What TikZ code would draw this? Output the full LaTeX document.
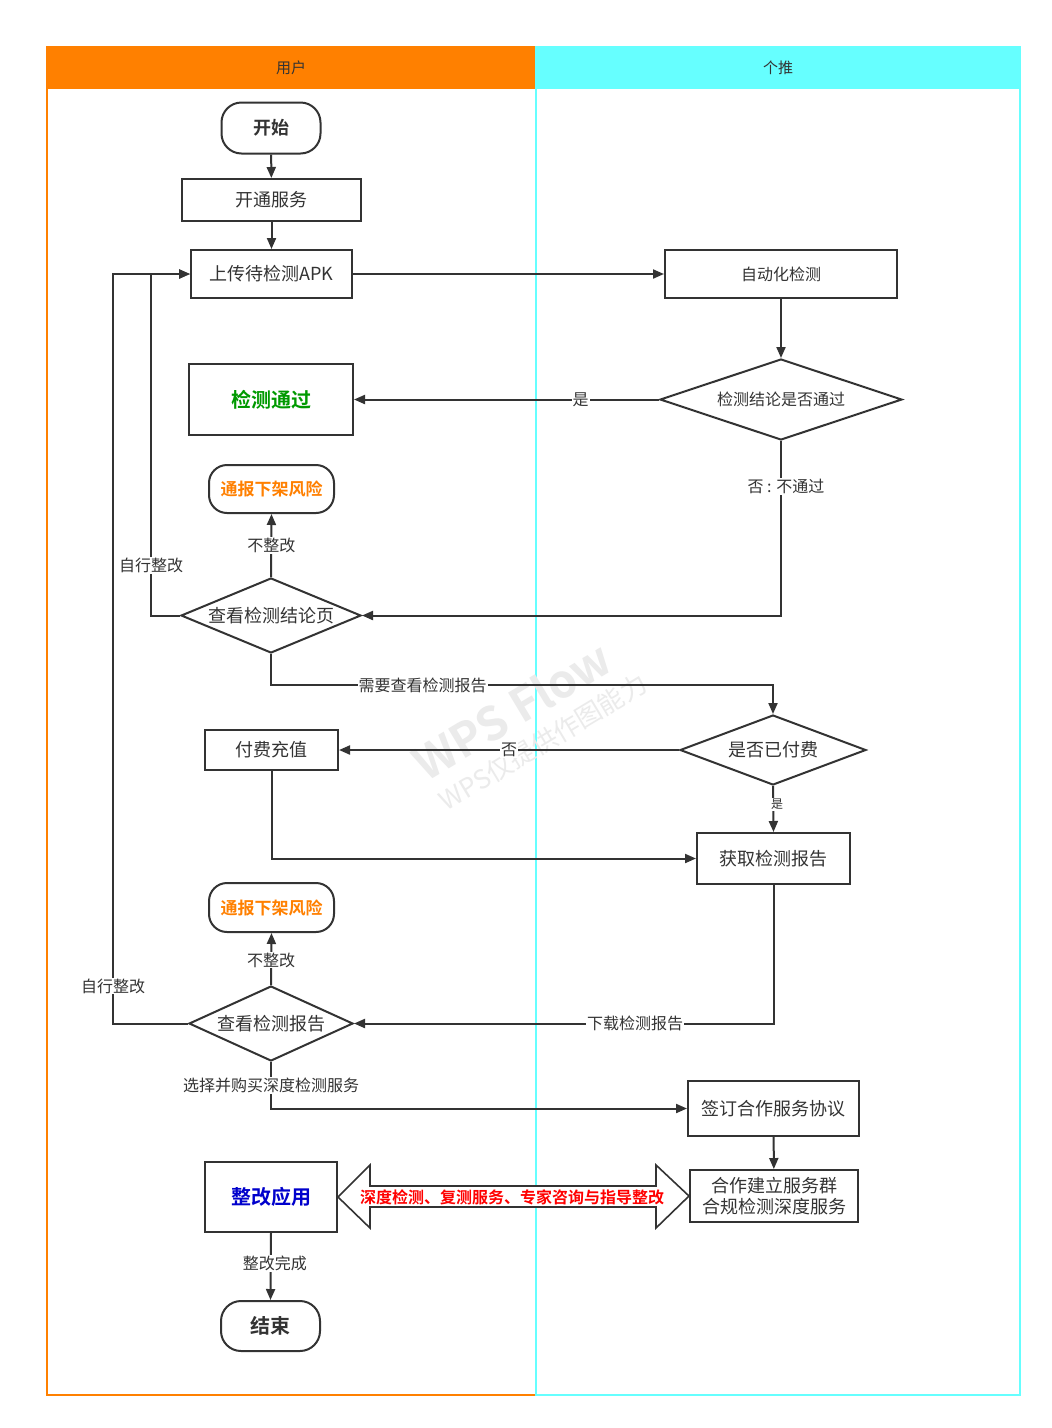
\documentclass[tikz,border=0pt]{standalone}
\usepackage{fontspec}
\setmainfont{Noto Sans CJK SC}[BoldFont={Noto Sans CJK SC Bold}]
\usetikzlibrary{shapes.geometric,arrows.meta}
\definecolor{ink}{HTML}{333333}
\definecolor{laneor}{HTML}{FF8000}
\definecolor{lanecy}{HTML}{66FFFF}
\definecolor{okgreen}{HTML}{009900}
\definecolor{fixblue}{HTML}{0000CC}
\definecolor{warnred}{HTML}{FF0000}
\definecolor{wmark}{HTML}{EBEBEB}
\newcommand{\fsz}[1]{\fontsize{#1}{#1}\selectfont}
\begin{document}
\begin{tikzpicture}[x=1pt,y=-1pt,
  box/.style={draw=ink,line width=2pt,fill=white,inner sep=0pt,text=ink,font=\fsz{18}},
  term/.style={box,rounded corners=20pt},
  dec/.style={draw=ink,line width=2pt,fill=white,shape=diamond,inner sep=0pt,text=ink,font=\fsz{18}},
  arr/.style={draw=ink,line width=2pt,-{Triangle[length=11pt,width=9pt]}},
  lbl/.style={fill=white,inner sep=1pt,text=ink,font=\fsz{16}},
  hdr/.style={text=ink,font=\fsz{15}}
]
\useasboundingbox (0,0) rectangle (1052,1428);
\fill[white] (0,0) rectangle (1052,1428);
% lanes
\fill[laneor] (47,47) rectangle (536,89);
\draw[laneor,line width=2pt] (47,47) rectangle (536,1395);
\fill[lanecy] (536,47) rectangle (1020,89);
\draw[lanecy,line width=2pt] (536,47) rectangle (1020,1395);
\node[hdr] (hU) at (291,68) {用户};
\node[hdr] (hG) at (778,68) {个推};
% watermark
\node[text=wmark,font=\bfseries\fsz{46},rotate=31] (wm1) at (512,710) {WPS Flow};
\node[text=wmark,font=\fsz{26},rotate=31] (wm2) at (543,742) {WPS仅提供作图能力};
% nodes
\node[term,minimum width=99pt,minimum height=51pt,font=\bfseries\fsz{18}] (start) at (271,128) {开始};
\node[box,minimum width=179pt,minimum height=42pt] (open) at (271.5,200) {开通服务};
\node[box,minimum width=161pt,minimum height=48pt] (upload) at (271.5,274) {上传待检测APK};
\node[box,minimum width=232pt,minimum height=48pt,font=\fsz{16}] (auto) at (781,274) {自动化检测};
\node[dec,aspect=3,minimum width=242pt,minimum height=81pt,font=\fsz{16}] (d1) at (781,399.5) {检测结论是否通过};
\node[box,minimum width=164pt,minimum height=71pt,font=\bfseries\fsz{20},text=okgreen] (pass) at (271,399.5) {检测通过};
\node[term,rounded corners=18pt,minimum width=125pt,minimum height=48pt,font=\bfseries\fsz{17},text=laneor] (risk1) at (271.5,489) {通报下架风险};
\node[dec,aspect=2.4,minimum width=180pt,minimum height=75pt] (view1) at (271,615.5) {查看检测结论页};
\node[dec,aspect=2.6,minimum width=186pt,minimum height=70pt] (d2) at (773,750) {是否已付费};
\node[box,minimum width=133pt,minimum height=40pt] (pay) at (271.5,750) {付费充值};
\node[box,minimum width=153pt,minimum height=51pt] (get) at (773.5,858.5) {获取检测报告};
\node[term,rounded corners=18pt,minimum width=125pt,minimum height=49pt,font=\bfseries\fsz{17},text=laneor] (risk2) at (271.5,907.5) {通报下架风险};
\node[dec,aspect=2.2,minimum width=164pt,minimum height=75pt] (view2) at (271,1023.5) {查看检测报告};
\node[box,minimum width=171pt,minimum height=55pt] (sign) at (773.5,1108.5) {签订合作服务协议};
\node[box,minimum width=168pt,minimum height=52pt,align=center,font=\fontsize{18}{21}\selectfont] (coop) at (774,1196) {合作建立服务群\\合规检测深度服务};
\node[box,minimum width=132pt,minimum height=70pt,font=\bfseries\fsz{20},text=fixblue] (fix) at (271,1197) {整改应用};
\node[term,minimum width=99pt,minimum height=50pt,font=\bfseries\fsz{20}] (end) at (270.5,1326) {结束};
% double arrow
\draw[draw=ink,line width=1.6pt,fill=white,line join=miter]
  (fix.east) -- ++(32,-32) -- ++(0,21) -- ++(286,0) -- ++(0,-21) -- (coop.west)
  -- ++(-33,32) -- ++(0,-21) -- ++(-286,0) -- ++(0,21) -- cycle;
\node[text=warnred,font=\bfseries\fsz{16}] (dbl) at (512,1197) {深度检测、复测服务、专家咨询与指导整改};
% connectors
\draw[arr] (start) -- (open);
\draw[arr] (open) -- (upload);
\draw[arr] (upload) -- (auto);
\draw[arr] (auto) -- (d1);
\draw[arr] (d1.west) -- node[lbl,pos=0.257]{是} (pass.east);
\draw[arr] (d1.south) |- node[lbl,pos=0.13,xshift=5pt]{否 : 不通过} (view1.east);
\draw[arr] (view1.north) -- node[lbl,pos=0.5]{不整改} (risk1.south);
\draw[arr] (view1.west) -- ++(-29,0) |- node[lbl,pos=0.073]{自行整改} (upload.west);
\draw[arr] (view1.south) -- ++(0,31) -| node[lbl,pos=0.151]{需要查看检测报告} (d2.north);
\draw[arr] (d2.west) -- node[lbl,pos=0.5]{否} (pay.east);
\draw[arr] (d2.south) -- node[lbl,pos=0.4,font=\fsz{12},xshift=4pt]{是} (get.north);
\draw[arr] (pay.south) |- (get.west);
\draw[arr] (get.south) |- node[lbl,pos=0.665]{下载检测报告} (view2.east);
\draw[arr] (view2.north) -- node[lbl,pos=0.48]{不整改} (risk2.south);
\draw[arr] (view2.west) -- ++(-75,0) |- node[lbl,pos=0.025]{自行整改} (upload.west);
\draw[arr] (view2.south) |- node[lbl,pos=0.255]{选择并购买深度检测服务} (sign.west);
\draw[arr] (sign) -- (coop);
\draw[arr] (fix.south) -- node[lbl,pos=0.46,xshift=4pt]{整改完成} (end.north);
\end{tikzpicture}
\end{document}
